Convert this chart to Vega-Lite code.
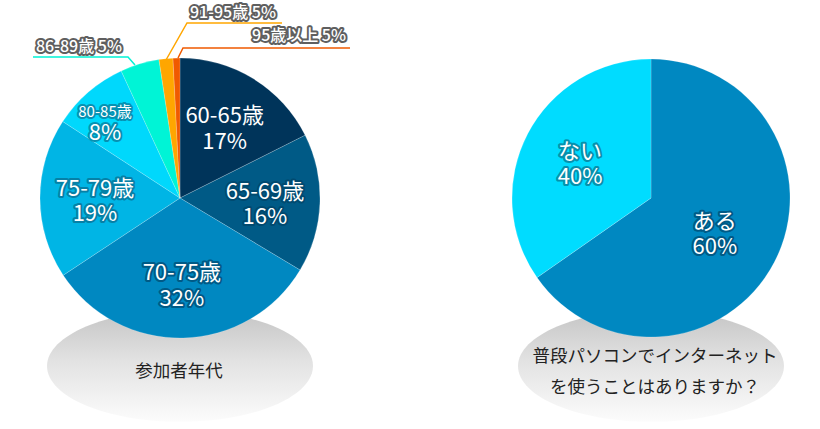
{
  "$schema": "https://vega.github.io/schema/vega-lite/v6.json",
  "width": 820,
  "height": 429,
  "autosize": {"type": "fit", "contains": "padding"},
  "padding": 0,
  "background": "#ffffff",
  "config": {"view": {"stroke": null}, "text": {"font": "Noto Sans CJK JP"}},
  "datasets": {
    "age": [
      {"idx": 1, "label": "60-65歳", "pct": "17%", "value": 17.6},
      {"idx": 2, "label": "65-69歳", "pct": "16%", "value": 16.0},
      {"idx": 3, "label": "70-75歳", "pct": "32%", "value": 32.1},
      {"idx": 4, "label": "75-79歳", "pct": "19%", "value": 18.5},
      {"idx": 5, "label": "80-85歳", "pct": "8%", "value": 8.9},
      {"idx": 6, "label": "86-89歳", "pct": "5%", "value": 4.5},
      {"idx": 7, "label": "91-95歳", "pct": "5%", "value": 1.6},
      {"idx": 8, "label": "95歳以上", "pct": "5%", "value": 0.8}
    ],
    "pc": [
      {"idx": 1, "label": "ある", "pct": "60%", "value": 65.3},
      {"idx": 2, "label": "ない", "pct": "40%", "value": 34.7}
    ],
    "charts": [
      {"chart": "left", "caption": "参加者年代"},
      {"chart": "right", "caption": "普段パソコンでインターネット\nを使うことはありますか？"}
    ],
    "leaders": [
      {"label": "86-89歳", "seq": 1, "px": 135, "py": 65, "callout": null},
      {"label": "86-89歳", "seq": 2, "px": 128, "py": 57, "callout": null},
      {"label": "86-89歳", "seq": 3, "px": 33, "py": 57, "callout": "86-89歳 5%"},
      {"label": "91-95歳", "seq": 1, "px": 166, "py": 60, "callout": null},
      {"label": "91-95歳", "seq": 2, "px": 187, "py": 23, "callout": "91-95歳 5%"},
      {"label": "91-95歳", "seq": 3, "px": 282, "py": 23, "callout": null},
      {"label": "95歳以上", "seq": 1, "px": 178, "py": 58, "callout": null},
      {"label": "95歳以上", "seq": 2, "px": 183, "py": 48, "callout": null},
      {"label": "95歳以上", "seq": 3, "px": 350, "py": 48, "callout": "95歳以上 5%"}
    ]
  },
  "resolve": {"scale": {"x": "independent", "y": "independent", "theta": "independent", "color": "independent", "stroke": "independent"}},
  "layer": [
    {
      "data": {"name": "charts"},
      "mark": {"type": "point", "shape": "M 1 0 C 1 0.232 0.552 0.42 0 0.42 C -0.552 0.42 -1 0.232 -1 0 C -1 -0.232 -0.552 -0.42 0 -0.42 C 0.552 -0.42 1 -0.232 1 0 Z", "size": 70756, "filled": true, "opacity": 1, "strokeWidth": 0,
        "fill": {"gradient": "linear", "x1": 0, "y1": 0, "x2": 0, "y2": 1, "stops": [{"offset": 0, "color": "#c4c4c4"}, {"offset": 0.45, "color": "#e2e2e2"}, {"offset": 1, "color": "#fcfcfc"}]}},
      "encoding": {
        "x": {"field": "chart", "type": "nominal", "scale": {"type": "point", "domain": ["left", "right"], "range": [180, 651], "padding": 0}, "axis": null},
        "y": {"datum": "caption", "type": "nominal", "scale": {"type": "point", "domain": ["pie", "caption"], "range": [198, 366], "padding": 0}, "axis": null}
      }
    },
    {
      "data": {"name": "charts"},
      "transform": [{"filter": "datum.chart == 'left'"}],
      "mark": {"type": "text", "fontSize": 17.5, "fill": "#222222", "lineHeight": 31, "lineBreak": "\n", "baseline": "middle", "align": "center", "dy": 6, "dx": -1},
      "encoding": {
        "x": {"field": "chart", "type": "nominal", "scale": {"type": "point", "domain": ["left", "right"], "range": [180, 651], "padding": 0}, "axis": null},
        "y": {"datum": "caption", "type": "nominal", "scale": {"type": "point", "domain": ["pie", "caption"], "range": [198, 366], "padding": 0}, "axis": null},
        "text": {"field": "caption"}
      }
    },
    {
      "data": {"name": "charts"},
      "transform": [{"filter": "datum.chart == 'right'"}],
      "mark": {"type": "text", "fontSize": 17.5, "fill": "#222222", "lineHeight": 31, "lineBreak": "\n", "baseline": "middle", "align": "center", "dy": -9, "dx": 4},
      "encoding": {
        "x": {"field": "chart", "type": "nominal", "scale": {"type": "point", "domain": ["left", "right"], "range": [180, 651], "padding": 0}, "axis": null},
        "y": {"datum": "caption", "type": "nominal", "scale": {"type": "point", "domain": ["pie", "caption"], "range": [198, 366], "padding": 0}, "axis": null},
        "text": {"field": "caption"}
      }
    },
    {
      "data": {"name": "age"},
      "encoding": {
        "x": {"datum": "left", "type": "nominal", "scale": {"type": "point", "domain": ["left", "right"], "range": [180, 651], "padding": 0}, "axis": null},
        "y": {"datum": "pie", "type": "nominal", "scale": {"type": "point", "domain": ["pie", "caption"], "range": [198, 366], "padding": 0}, "axis": null},
        "theta": {"field": "value", "type": "quantitative", "stack": true, "scale": {"domain": [0, 100]}},
        "order": {"field": "idx", "type": "quantitative"},
        "detail": {"field": "label"}
      },
      "layer": [
        {"mark": {"type": "arc", "outerRadius": 140, "stroke": "#ffffff", "strokeWidth": 0.6, "strokeOpacity": 0.3},
         "encoding": {"color": {"field": "label", "type": "nominal", "legend": null, "scale": {"domain": ["60-65歳", "65-69歳", "70-75歳", "75-79歳", "80-85歳", "86-89歳", "91-95歳", "95歳以上"], "range": ["#00345a", "#005a86", "#0088c1", "#00b5e5", "#00d8fc", "#00f4d6", "#ffa600", "#f05a00"]}}}},
        {"mark": {"type": "text", "radius": 85, "dy": -9.5, "fontSize": 22, "fill": "#ffffff", "strokeWidth": 4, "strokeJoin": "round"},
         "encoding": {"text": {"condition": {"test": "datum.idx <= 4", "field": "label"}, "value": ""},
           "stroke": {"field": "label", "type": "nominal", "legend": null, "scale": {"domain": ["60-65歳", "65-69歳", "70-75歳", "75-79歳", "80-85歳", "86-89歳", "91-95歳", "95歳以上"], "range": ["#00345a", "#004a70", "#005a86", "#0680a6", "#0791b2", "#0791b2", "#0791b2", "#0791b2"]}}}},
        {"mark": {"type": "text", "radius": 85, "dy": -9.5, "fontSize": 22, "fill": "#ffffff"},
         "encoding": {"text": {"condition": {"test": "datum.idx <= 4", "field": "label"}, "value": ""}}},
        {"mark": {"type": "text", "radius": 85, "dy": 16, "fontSize": 22, "fill": "#ffffff", "strokeWidth": 4, "strokeJoin": "round"},
         "encoding": {"text": {"condition": {"test": "datum.idx <= 4", "field": "pct"}, "value": ""},
           "stroke": {"field": "label", "type": "nominal", "legend": null, "scale": {"domain": ["60-65歳", "65-69歳", "70-75歳", "75-79歳", "80-85歳", "86-89歳", "91-95歳", "95歳以上"], "range": ["#00345a", "#004a70", "#005a86", "#0680a6", "#0791b2", "#0791b2", "#0791b2", "#0791b2"]}}}},
        {"mark": {"type": "text", "radius": 85, "dy": 16, "fontSize": 22, "fill": "#ffffff"},
         "encoding": {"text": {"condition": {"test": "datum.idx <= 4", "field": "pct"}, "value": ""}}},
        {"mark": {"type": "text", "radius": 107, "dy": -5, "dx": -5, "fontSize": 15, "fill": "#ffffff", "strokeWidth": 4, "strokeJoin": "round"},
         "encoding": {"text": {"condition": {"test": "datum.idx == 5", "field": "label"}, "value": ""},
           "stroke": {"field": "label", "type": "nominal", "legend": null, "scale": {"domain": ["60-65歳", "65-69歳", "70-75歳", "75-79歳", "80-85歳", "86-89歳", "91-95歳", "95歳以上"], "range": ["#00345a", "#004a70", "#005a86", "#0680a6", "#0791b2", "#0791b2", "#0791b2", "#0791b2"]}}}},
        {"mark": {"type": "text", "radius": 107, "dy": -5, "dx": -5, "fontSize": 15, "fill": "#ffffff"},
         "encoding": {"text": {"condition": {"test": "datum.idx == 5", "field": "label"}, "value": ""}}},
        {"mark": {"type": "text", "radius": 107, "dy": 15.5, "dx": -5, "fontSize": 22, "fill": "#ffffff", "strokeWidth": 4, "strokeJoin": "round"},
         "encoding": {"text": {"condition": {"test": "datum.idx == 5", "field": "pct"}, "value": ""},
           "stroke": {"field": "label", "type": "nominal", "legend": null, "scale": {"domain": ["60-65歳", "65-69歳", "70-75歳", "75-79歳", "80-85歳", "86-89歳", "91-95歳", "95歳以上"], "range": ["#00345a", "#004a70", "#005a86", "#0680a6", "#0791b2", "#0791b2", "#0791b2", "#0791b2"]}}}},
        {"mark": {"type": "text", "radius": 107, "dy": 15.5, "dx": -5, "fontSize": 22, "fill": "#ffffff"},
         "encoding": {"text": {"condition": {"test": "datum.idx == 5", "field": "pct"}, "value": ""}}}
      ]
    },
    {
      "data": {"name": "pc"},
      "encoding": {
        "x": {"datum": "right", "type": "nominal", "scale": {"type": "point", "domain": ["left", "right"], "range": [180, 651], "padding": 0}, "axis": null},
        "y": {"datum": "pie", "type": "nominal", "scale": {"type": "point", "domain": ["pie", "caption"], "range": [198, 366], "padding": 0}, "axis": null},
        "theta": {"field": "value", "type": "quantitative", "stack": true, "scale": {"domain": [0, 100]}},
        "order": {"field": "idx", "type": "quantitative"},
        "detail": {"field": "label"}
      },
      "layer": [
        {"mark": {"type": "arc", "outerRadius": 139, "stroke": "#ffffff", "strokeWidth": 0.6, "strokeOpacity": 0.3},
         "encoding": {"color": {"field": "label", "type": "nominal", "legend": null, "scale": {"domain": ["ある", "ない"], "range": ["#0088c1", "#00dcff"]}}}},
        {"mark": {"type": "text", "radius": 72, "dy": -9.5, "fontSize": 22, "fill": "#ffffff", "strokeWidth": 4, "strokeJoin": "round"},
         "encoding": {"text": {"condition": {"test": "datum.idx == 1", "field": "label"}, "value": ""},
           "stroke": {"field": "label", "type": "nominal", "legend": null, "scale": {"domain": ["ある", "ない"], "range": ["#005a86", "#0790ad"]}}}},
        {"mark": {"type": "text", "radius": 72, "dy": -9.5, "fontSize": 22, "fill": "#ffffff"},
         "encoding": {"text": {"condition": {"test": "datum.idx == 1", "field": "label"}, "value": ""}}},
        {"mark": {"type": "text", "radius": 72, "dy": 15.5, "fontSize": 22, "fill": "#ffffff", "strokeWidth": 4, "strokeJoin": "round"},
         "encoding": {"text": {"condition": {"test": "datum.idx == 1", "field": "pct"}, "value": ""},
           "stroke": {"field": "label", "type": "nominal", "legend": null, "scale": {"domain": ["ある", "ない"], "range": ["#005a86", "#0790ad"]}}}},
        {"mark": {"type": "text", "radius": 72, "dy": 15.5, "fontSize": 22, "fill": "#ffffff"},
         "encoding": {"text": {"condition": {"test": "datum.idx == 1", "field": "pct"}, "value": ""}}},
        {"mark": {"type": "text", "radius": 80, "dy": -9.5, "fontSize": 22, "fill": "#ffffff", "strokeWidth": 4, "strokeJoin": "round"},
         "encoding": {"text": {"condition": {"test": "datum.idx == 2", "field": "label"}, "value": ""},
           "stroke": {"field": "label", "type": "nominal", "legend": null, "scale": {"domain": ["ある", "ない"], "range": ["#005a86", "#0790ad"]}}}},
        {"mark": {"type": "text", "radius": 80, "dy": -9.5, "fontSize": 22, "fill": "#ffffff"},
         "encoding": {"text": {"condition": {"test": "datum.idx == 2", "field": "label"}, "value": ""}}},
        {"mark": {"type": "text", "radius": 80, "dy": 15.5, "fontSize": 22, "fill": "#ffffff", "strokeWidth": 4, "strokeJoin": "round"},
         "encoding": {"text": {"condition": {"test": "datum.idx == 2", "field": "pct"}, "value": ""},
           "stroke": {"field": "label", "type": "nominal", "legend": null, "scale": {"domain": ["ある", "ない"], "range": ["#005a86", "#0790ad"]}}}},
        {"mark": {"type": "text", "radius": 80, "dy": 15.5, "fontSize": 22, "fill": "#ffffff"},
         "encoding": {"text": {"condition": {"test": "datum.idx == 2", "field": "pct"}, "value": ""}}}
      ]
    },
    {
      "data": {"name": "leaders"},
      "encoding": {
        "x": {"field": "px", "type": "quantitative", "scale": {"domain": [0, 820], "range": [0, 820]}, "axis": null},
        "y": {"field": "py", "type": "quantitative", "scale": {"domain": [0, 429], "range": [0, 429]}, "axis": null}
      },
      "layer": [
        {"mark": {"type": "line", "strokeWidth": 1.5, "interpolate": "linear"},
         "encoding": {"order": {"field": "seq", "type": "quantitative"},
           "color": {"field": "label", "type": "nominal", "legend": null, "scale": {"domain": ["86-89歳", "91-95歳", "95歳以上"], "range": ["#00f4d6", "#ffa600", "#f05a00"]}}}},
        {"transform": [{"filter": "datum.callout != null && datum.label != '95歳以上'"}],
         "mark": {"type": "text", "align": "left", "baseline": "middle", "dx": 3, "dy": -10, "fontSize": 16, "fontWeight": 500, "fill": "#ffffff", "stroke": "#5f5f5f", "strokeWidth": 4, "strokeJoin": "round"},
         "encoding": {"text": {"field": "callout"}}},
        {"transform": [{"filter": "datum.callout != null && datum.label != '95歳以上'"}],
         "mark": {"type": "text", "align": "left", "baseline": "middle", "dx": 3, "dy": -10, "fontSize": 16, "fontWeight": 500, "fill": "#ffffff"},
         "encoding": {"text": {"field": "callout"}}},
        {"transform": [{"filter": "datum.label == '95歳以上' && datum.callout != null"}],
         "mark": {"type": "text", "align": "right", "baseline": "middle", "dx": -4, "dy": -12, "fontSize": 16, "fontWeight": 500, "fill": "#ffffff", "stroke": "#5f5f5f", "strokeWidth": 4, "strokeJoin": "round"},
         "encoding": {"text": {"field": "callout"}}},
        {"transform": [{"filter": "datum.label == '95歳以上' && datum.callout != null"}],
         "mark": {"type": "text", "align": "right", "baseline": "middle", "dx": -4, "dy": -12, "fontSize": 16, "fontWeight": 500, "fill": "#ffffff"},
         "encoding": {"text": {"field": "callout"}}}
      ]
    }
  ]
}
